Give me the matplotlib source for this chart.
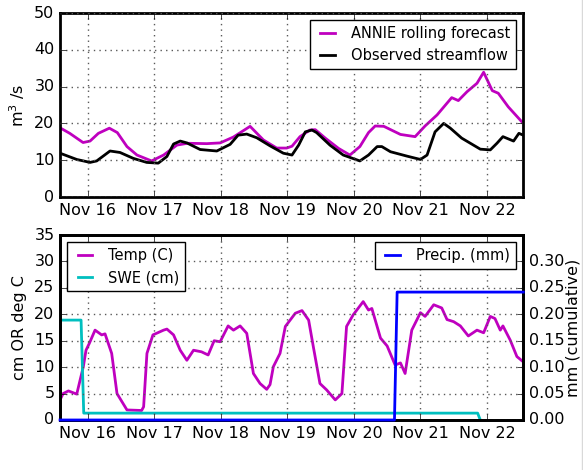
import matplotlib
matplotlib.use("Agg")
import matplotlib.pyplot as plt
import matplotlib.dates as mdates
from matplotlib.lines import Line2D
import pandas as pd
import numpy as np

# ---------------- data (days relative to Nov 16 00:00) ----------------
annie_days = [-0.416, -0.27, -0.07, 0.035, 0.16, 0.325, 0.445, 0.59, 0.74, 0.96,
              1.14, 1.34, 1.5, 1.79, 1.99, 2.19, 2.44, 2.64, 2.84, 2.99,
              3.07, 3.19, 3.34, 3.42, 3.57, 3.77, 3.94, 4.09, 4.22, 4.32,
              4.45, 4.70, 4.92, 5.07, 5.25, 5.47, 5.57, 5.70, 5.85, 5.95,
              6.08, 6.17, 6.32, 6.546]
annie_flow = [18.8, 17.3, 14.8, 15.2, 17.3, 18.7, 17.5, 13.7, 11.4, 9.8,
              11.4, 14.1, 14.6, 14.5, 14.7, 16.3, 19.2, 15.5, 13.3, 13.3,
              13.8, 16.4, 18.2, 18.3, 16.0, 13.2, 11.4, 13.7, 17.5, 19.3,
              19.2, 17.0, 16.4, 19.3, 22.3, 27.0, 26.2, 28.6, 30.9, 33.9,
              28.9, 28.2, 24.5, 20.0]

obs_days = [-0.416, -0.165, 0.035, 0.135, 0.335, 0.485, 0.685, 0.887, 1.06, 1.19,
            1.29, 1.39, 1.49, 1.69, 1.94, 2.14, 2.26, 2.39, 2.54, 2.74,
            2.94, 3.07, 3.17, 3.27, 3.37, 3.44, 3.64, 3.84, 4.09, 4.22,
            4.35, 4.42, 4.55, 4.80, 5.0, 5.10, 5.22, 5.35, 5.45, 5.62,
            5.90, 6.05, 6.15, 6.24, 6.40, 6.48, 6.546]
obs_flow = [11.9, 10.2, 9.4, 9.8, 12.5, 12.1, 10.5, 9.4, 9.2, 11.0,
            14.4, 15.2, 14.7, 12.9, 12.5, 14.3, 16.8, 17.1, 16.1, 13.9,
            11.9, 11.4, 14.1, 17.7, 18.2, 17.5, 14.1, 11.4, 9.8, 11.4,
            13.7, 13.7, 12.3, 11.1, 10.2, 11.4, 17.7, 20.0, 18.7, 16.0,
            13.0, 12.8, 14.6, 16.4, 15.2, 17.3, 16.8]

temp_days = [-0.416, -0.37, -0.29, -0.165, -0.066, -0.026, 0.024, 0.11, 0.21, 0.26,
             0.36, 0.44, 0.59, 0.81, 0.84, 0.89, 0.98, 1.14, 1.19, 1.29,
             1.39, 1.49, 1.59, 1.71, 1.81, 1.90, 1.99, 2.11, 2.19, 2.29,
             2.39, 2.49, 2.59, 2.69, 2.74, 2.79, 2.89, 2.97, 3.12, 3.22,
             3.32, 3.39, 3.49, 3.59, 3.72, 3.82, 3.89, 3.99, 4.14, 4.22,
             4.27, 4.40, 4.50, 4.62, 4.70, 4.77, 4.87, 5.0, 5.07, 5.20,
             5.32, 5.40, 5.50, 5.60, 5.72, 5.85, 5.95, 6.05, 6.12, 6.20,
             6.24, 6.35, 6.45, 6.546]
temp_c = [3.8, 5.0, 5.5, 4.9, 10.1, 13.2, 14.5, 17.0, 16.1, 16.3,
          12.6, 5.0, 1.9, 1.8, 2.5, 12.6, 16.1, 17.0, 17.2, 16.1,
          13.2, 11.3, 13.2, 12.9, 12.3, 15.0, 14.8, 17.8, 17.0, 17.8,
          16.4, 8.8, 6.9, 5.8, 6.7, 10.1, 12.6, 17.7, 20.2, 20.7,
          18.9, 13.9, 6.9, 5.7, 3.8, 5.0, 17.7, 19.9, 22.4, 20.8,
          21.1, 15.5, 14.0, 10.4, 10.8, 8.8, 17.0, 20.3, 19.6, 21.8,
          21.2, 19.0, 18.6, 17.8, 15.9, 17.0, 16.5, 19.6, 19.2, 17.0,
          17.8, 15.1, 12.0, 11.0]

swe_days = [-0.416, -0.10, -0.06, 5.86, 5.90]
swe_cm = [18.9, 18.9, 1.3, 1.3, 0.0]

precip_days = [-0.416, 4.61, 4.65, 6.546]
precip_mm = [0.0, 0.0, 0.242, 0.242]

base = pd.Timestamp("2015-11-16")
def to_dt(days):
    return [base + pd.Timedelta(days=float(d)) for d in days]

x_start = base + pd.Timedelta(hours=-10)
x_end = base + pd.Timedelta(days=6, hours=13)

# ---------------- style ----------------
plt.style.use("classic")
plt.rcParams.update({
    "font.family": ["DejaVu Sans"],
    "font.size": 11.5,
    "figure.facecolor": "white",
    "savefig.facecolor": "white",
    "axes.linewidth": 2.0,
    "mathtext.default": "regular",
    "legend.fontsize": 10.5,
    "legend.handlelength": 1.6,
})

fig = plt.figure(figsize=(5.83, 4.70), dpi=100)
ax1 = fig.add_axes([60/583, 1-197/470, 463/583, 184/470])
ax2 = fig.add_axes([60/583, 1-420/470, 463/583, 185/470])

fmt = mdates.DateFormatter("%b %d")
loc = mdates.DayLocator()

# ---- top ----
ax1.plot(to_dt(annie_days), annie_flow, color="m", lw=2, label="ANNIE rolling forecast")
ax1.plot(to_dt(obs_days), obs_flow, color="k", lw=2, label="Observed streamflow")
ax1.set_ylim(0, 50)
ax1.set_yticks([0, 10, 20, 30, 40, 50])
ax1.set_xlim(x_start, x_end)
ax1.xaxis.set_major_locator(loc)
ax1.xaxis.set_major_formatter(fmt)
ax1.grid(True, color="0.35", linestyle=":", linewidth=1)
ax1.set_ylabel("m$^3$ /s")
ax1.legend(loc="upper right", fancybox=False)

# ---- bottom ----
ax2.plot(to_dt(temp_days), temp_c, color="m", lw=2, label="Temp (C)")
ax2.plot(to_dt(swe_days), swe_cm, color="c", lw=2, label="SWE (cm)")
ax2.set_ylim(0, 35)
ax2.set_yticks(np.arange(0, 36, 5))
ax2.set_xlim(x_start, x_end)
ax2.xaxis.set_major_locator(loc)
ax2.xaxis.set_major_formatter(fmt)
ax2.grid(True, color="0.35", linestyle=":", linewidth=1)
ax2.set_ylabel("cm OR deg C")
ax2.legend(loc="upper left", fancybox=False)

ax3 = ax2.twinx()
ax3.plot(to_dt(precip_days), precip_mm, color="b", lw=2, label="Precip. (mm)",
         zorder=3, clip_on=False)
ax3.set_ylim(0, 0.35)
ax3.set_yticks([0.0, 0.05, 0.10, 0.15, 0.20, 0.25, 0.30])
ax3.yaxis.set_major_formatter(matplotlib.ticker.FormatStrFormatter("%.2f"))
ax3.set_xlim(x_start, x_end)
ax3.set_ylabel("mm (cumulative)", labelpad=1)
ax3.legend(loc="upper right", fancybox=False)

# faint border line at the right edge of the figure
fig.add_artist(Line2D([581.5/583, 581.5/583], [0, 1], transform=fig.transFigure,
                      color="0.85", lw=1))

fig.savefig("out.png", dpi=100)
